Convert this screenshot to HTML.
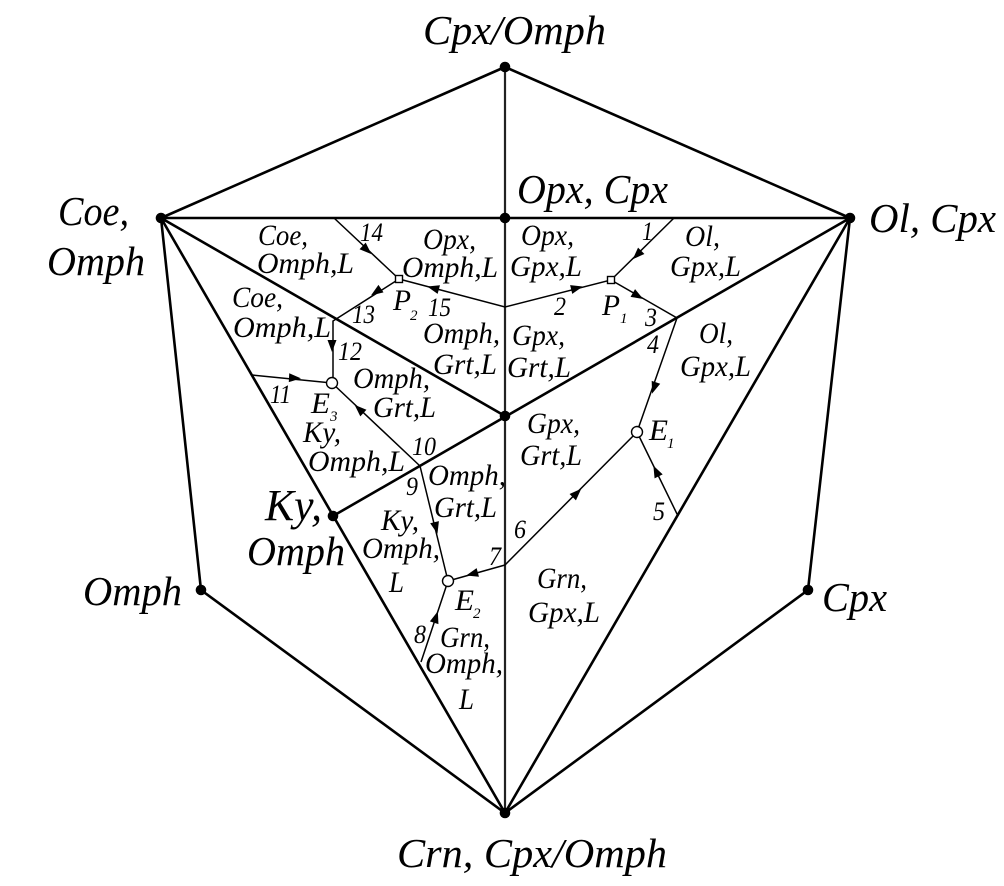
<!DOCTYPE html>
<html><head><meta charset="utf-8"><style>
html,body{margin:0;padding:0;background:#fff}
svg{display:block}
text{font-family:"Liberation Serif",serif;font-style:italic;fill:#000;stroke:none}
.t{font-size:30px}.n{font-size:26px}.s{font-size:15px}.l{font-size:41px}
</style></head><body>
<svg width="1004" height="886" viewBox="0 0 1004 886" xmlns="http://www.w3.org/2000/svg">
<g stroke="#000" stroke-width="2.6" fill="none">
<path d="M505 67L161 218L505 218L850 218L505 67"/>
<path d="M161 218L505 416M850 218L333 516M161 218L505 813L850 218M161 218L201 590L505 813L808 590L850 218"/>
</g>
<path d="M505 67V813" stroke="#222" stroke-width="2.2" fill="none"/>
<g stroke="#000" stroke-width="1.5" fill="none">
<path d="M334 218L399 279L333 321V383M399 279L505 307L611 280L674 218M611 280L677 318L637 432M678 516L637 432M505 565L637 432M505 565L448 581M420 466L448 581M421 662L448 581M420 466L332 383M252 375L332 383"/>
</g>
<g fill="#000">
<circle cx="505" cy="67" r="5.3"/><circle cx="161" cy="218" r="5.3"/><circle cx="505" cy="218" r="5.3"/><circle cx="850" cy="218" r="5.3"/><circle cx="505" cy="416" r="5.3"/><circle cx="333" cy="516" r="5.3"/><circle cx="201" cy="590" r="5.3"/><circle cx="808" cy="590" r="5.3"/><circle cx="505" cy="813" r="5.3"/>
<g>
<path d="M6 0L-6-4.5V4.5Z" transform="translate(367 250) rotate(43)"/>
<path d="M6 0L-6-4.5V4.5Z" transform="translate(637 255) rotate(135)"/>
<path d="M6 0L-6-4.5V4.5Z" transform="translate(433 288) rotate(195)"/>
<path d="M6 0L-6-4.5V4.5Z" transform="translate(376 292) rotate(146)"/>
<path d="M6 0L-6-4.5V4.5Z" transform="translate(577 288) rotate(-14)"/>
<path d="M6 0L-6-4.5V4.5Z" transform="translate(638 296) rotate(30)"/>
<path d="M6 0L-6-4.5V4.5Z" transform="translate(654 388) rotate(109)"/>
<path d="M6 0L-6-4.5V4.5Z" transform="translate(656 471) rotate(244)"/>
<path d="M6 0L-6-4.5V4.5Z" transform="translate(577 493) rotate(-45)"/>
<path d="M6 0L-6-4.5V4.5Z" transform="translate(472 574) rotate(165)"/>
<path d="M6 0L-6-4.5V4.5Z" transform="translate(436 528) rotate(76)"/>
<path d="M6 0L-6-4.5V4.5Z" transform="translate(436 617) rotate(-72)"/>
<path d="M6 0L-6-4.5V4.5Z" transform="translate(359 409) rotate(223)"/>
<path d="M6 0L-6-4.5V4.5Z" transform="translate(332 346) rotate(90)"/>
<path d="M6 0L-6-4.5V4.5Z" transform="translate(295 378) rotate(3)"/>
</g>
</g>
<g fill="#fff" stroke="#000" stroke-width="1.4">
<circle cx="637" cy="432" r="5.5"/><circle cx="448" cy="581" r="5.5"/><circle cx="332" cy="383" r="5.5"/>
<rect x="395.5" y="275.5" width="7" height="7"/><rect x="607.5" y="276.5" width="7" height="7"/>
</g>

<text class="l" x="423" y="44" textLength="183" lengthAdjust="spacingAndGlyphs">Cpx/Omph</text>
<text class="l" x="517" y="203" textLength="151" lengthAdjust="spacingAndGlyphs">Opx, Cpx</text>
<text class="l" x="58" y="225" textLength="71" lengthAdjust="spacingAndGlyphs">Coe,</text>
<text class="l" x="47" y="275" textLength="98" lengthAdjust="spacingAndGlyphs">Omph</text>
<text class="l" x="869" y="232" textLength="127" lengthAdjust="spacingAndGlyphs">Ol, Cpx</text>
<text class="l" x="265" y="520" textLength="57" lengthAdjust="spacingAndGlyphs" style="font-size:44px">Ky,</text>
<text class="l" x="247" y="565" textLength="98" lengthAdjust="spacingAndGlyphs">Omph</text>
<text class="l" x="83" y="605" textLength="99" lengthAdjust="spacingAndGlyphs">Omph</text>
<text class="l" x="822" y="611" textLength="65" lengthAdjust="spacingAndGlyphs">Cpx</text>
<text class="l" x="397" y="867" textLength="270" lengthAdjust="spacingAndGlyphs">Crn, Cpx/Omph</text>

<text class="t" x="258" y="245" textLength="50" lengthAdjust="spacingAndGlyphs">Coe,</text>
<text class="t" x="257" y="273" textLength="97" lengthAdjust="spacingAndGlyphs">Omph,L</text>
<text class="t" x="232" y="307" textLength="51" lengthAdjust="spacingAndGlyphs">Coe,</text>
<text class="t" x="233" y="337" textLength="98" lengthAdjust="spacingAndGlyphs">Omph,L</text>
<text class="t" x="423" y="249" textLength="53" lengthAdjust="spacingAndGlyphs">Opx,</text>
<text class="t" x="402" y="277" textLength="96" lengthAdjust="spacingAndGlyphs">Omph,L</text>
<text class="t" x="423" y="343" textLength="77" lengthAdjust="spacingAndGlyphs">Omph,</text>
<text class="t" x="433" y="374" textLength="64" lengthAdjust="spacingAndGlyphs">Grt,L</text>
<text class="t" x="353" y="388" textLength="77" lengthAdjust="spacingAndGlyphs">Omph,</text>
<text class="t" x="373" y="417" textLength="63" lengthAdjust="spacingAndGlyphs">Grt,L</text>
<text class="t" x="303" y="442" textLength="38" lengthAdjust="spacingAndGlyphs">Ky,</text>
<text class="t" x="308" y="471" textLength="97" lengthAdjust="spacingAndGlyphs">Omph,L</text>
<text class="t" x="521" y="245" textLength="53" lengthAdjust="spacingAndGlyphs">Opx,</text>
<text class="t" x="510" y="276" textLength="72" lengthAdjust="spacingAndGlyphs">Gpx,L</text>
<text class="t" x="685" y="246" textLength="35" lengthAdjust="spacingAndGlyphs">Ol,</text>
<text class="t" x="670" y="276" textLength="71" lengthAdjust="spacingAndGlyphs">Gpx,L</text>
<text class="t" x="512" y="345" textLength="53" lengthAdjust="spacingAndGlyphs">Gpx,</text>
<text class="t" x="507" y="377" textLength="64" lengthAdjust="spacingAndGlyphs">Grt,L</text>
<text class="t" x="699" y="343" textLength="34" lengthAdjust="spacingAndGlyphs">Ol,</text>
<text class="t" x="680" y="376" textLength="71" lengthAdjust="spacingAndGlyphs">Gpx,L</text>
<text class="t" x="527" y="433" textLength="53" lengthAdjust="spacingAndGlyphs">Gpx,</text>
<text class="t" x="520" y="465" textLength="62" lengthAdjust="spacingAndGlyphs">Grt,L</text>
<text class="t" x="428" y="485" textLength="78" lengthAdjust="spacingAndGlyphs">Omph,</text>
<text class="t" x="434" y="517" textLength="63" lengthAdjust="spacingAndGlyphs">Grt,L</text>
<text class="t" x="381" y="530" textLength="38" lengthAdjust="spacingAndGlyphs">Ky,</text>
<text class="t" x="362" y="558" textLength="78" lengthAdjust="spacingAndGlyphs">Omph,</text>
<text class="t" x="389" y="592" textLength="15" lengthAdjust="spacingAndGlyphs">L</text>
<text class="t" x="440" y="647" textLength="50" lengthAdjust="spacingAndGlyphs">Grn,</text>
<text class="t" x="425" y="673" textLength="78" lengthAdjust="spacingAndGlyphs">Omph,</text>
<text class="t" x="459" y="709" textLength="15" lengthAdjust="spacingAndGlyphs">L</text>
<text class="t" x="537" y="588" textLength="50" lengthAdjust="spacingAndGlyphs">Grn,</text>
<text class="t" x="528" y="622" textLength="72" lengthAdjust="spacingAndGlyphs">Gpx,L</text>

<text class="t" x="393" y="310" textLength="18" lengthAdjust="spacingAndGlyphs">P</text><text class="s" x="410" y="320">2</text>
<text class="t" x="602" y="315" textLength="18" lengthAdjust="spacingAndGlyphs">P</text><text class="s" x="620" y="323">1</text>
<text class="t" x="311" y="413" textLength="19" lengthAdjust="spacingAndGlyphs">E</text><text class="s" x="330" y="421">3</text>
<text class="t" x="649" y="440" textLength="19" lengthAdjust="spacingAndGlyphs">E</text><text class="s" x="667" y="448">1</text>
<text class="t" x="455" y="610" textLength="19" lengthAdjust="spacingAndGlyphs">E</text><text class="s" x="473" y="618">2</text>

<text class="n" x="642" y="240" textLength="11" lengthAdjust="spacingAndGlyphs">1</text>
<text class="n" x="554" y="315" textLength="12" lengthAdjust="spacingAndGlyphs">2</text>
<text class="n" x="645" y="326" textLength="12" lengthAdjust="spacingAndGlyphs">3</text>
<text class="n" x="647" y="353" textLength="12" lengthAdjust="spacingAndGlyphs">4</text>
<text class="n" x="653" y="520" textLength="12" lengthAdjust="spacingAndGlyphs">5</text>
<text class="n" x="514" y="538" textLength="12" lengthAdjust="spacingAndGlyphs">6</text>
<text class="n" x="489" y="565" textLength="12" lengthAdjust="spacingAndGlyphs">7</text>
<text class="n" x="414" y="643" textLength="12" lengthAdjust="spacingAndGlyphs">8</text>
<text class="n" x="406" y="495" textLength="12" lengthAdjust="spacingAndGlyphs">9</text>
<text class="n" x="412" y="455" textLength="24" lengthAdjust="spacingAndGlyphs">10</text>
<text class="n" x="270" y="403" textLength="21" lengthAdjust="spacingAndGlyphs">11</text>
<text class="n" x="338" y="360" textLength="24" lengthAdjust="spacingAndGlyphs">12</text>
<text class="n" x="352" y="323" textLength="23" lengthAdjust="spacingAndGlyphs">13</text>
<text class="n" x="360" y="241" textLength="23" lengthAdjust="spacingAndGlyphs">14</text>
<text class="n" x="428" y="316" textLength="23" lengthAdjust="spacingAndGlyphs">15</text>
</svg>
</body></html>
